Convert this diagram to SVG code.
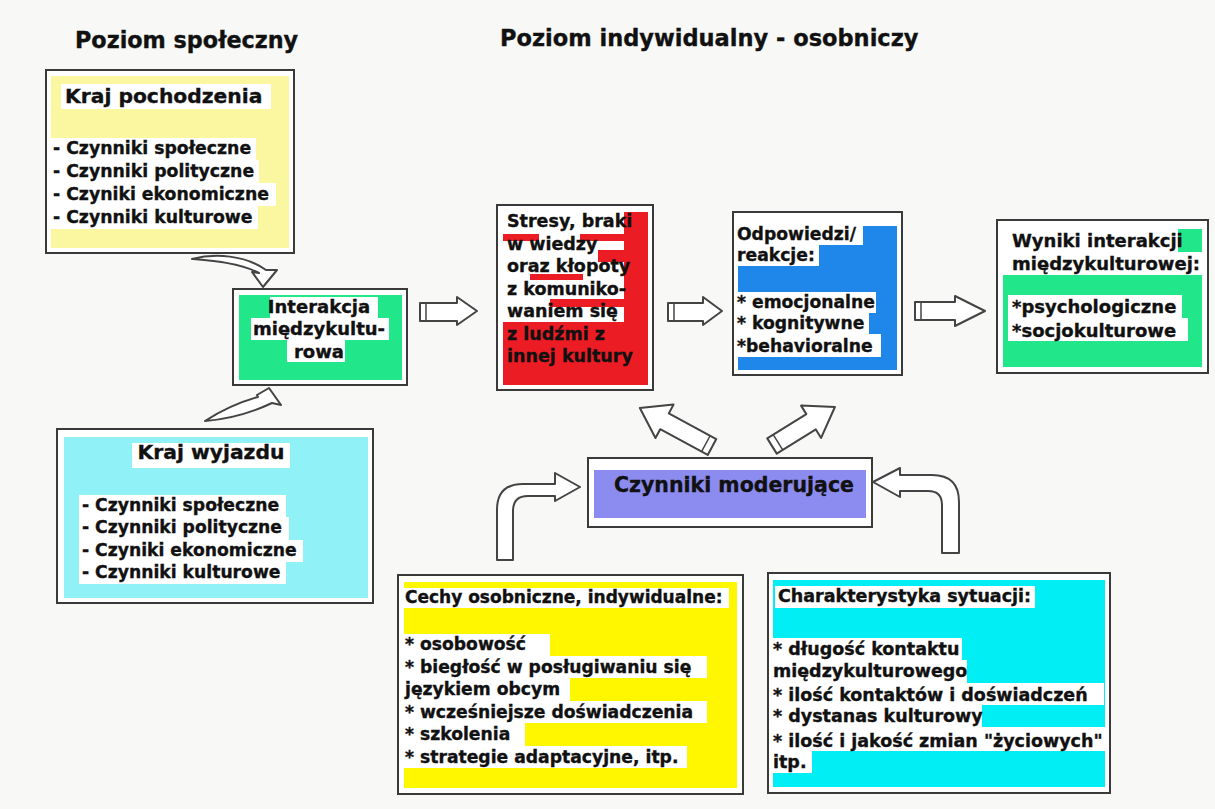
<svg xmlns="http://www.w3.org/2000/svg" width="1215" height="809" viewBox="0 0 1215 809">
<style>
.box{fill:#fff;stroke:#3a3a3a;stroke-width:2}
.t{font-family:"DejaVu Sans",Verdana,sans-serif;font-weight:bold;fill:#111;stroke:#111;stroke-width:0.35}
.hl{fill:#fff}
.arr{fill:#fff;stroke:#444;stroke-width:2;stroke-linejoin:round}
.ln{fill:none;stroke:#444;stroke-width:1.5}
</style>
<rect width="1215" height="809" fill="#f8f8f6"/>
<g id="titles">
<text class="t" x="75" y="48" font-size="22.3">Poziom społeczny</text>
<text class="t" x="500" y="46" font-size="22.5">Poziom indywidualny - osobniczy</text>
</g>
<g id="kraj-pochodzenia">
<rect class="box" x="46" y="70" width="248" height="183"/>
<rect x="51" y="76" width="238" height="172" fill="#fbf6a0"/>
<rect class="hl" x="61" y="84" width="210" height="25"/>
<rect class="hl" x="51" y="138" width="205" height="22"/>
<rect class="hl" x="51" y="160" width="208" height="23"/>
<rect class="hl" x="51" y="183" width="225" height="23"/>
<rect class="hl" x="51" y="206" width="207" height="23"/>
<text class="t" x="65" y="103" font-size="20.3">Kraj pochodzenia</text>
<text class="t" font-size="17.3"><tspan x="53" y="154">- Czynniki społeczne</tspan><tspan x="53" y="177">- Czynniki polityczne</tspan><tspan x="53" y="200">- Czyniki ekonomiczne</tspan><tspan x="53" y="223">- Czynniki kulturowe</tspan></text>
</g>
<g id="interakcja">
<rect class="box" x="233" y="289" width="174" height="96"/>
<rect x="239" y="295" width="163" height="85" fill="#22e68a"/>
<rect class="hl" x="270" y="297" width="108" height="21"/>
<rect class="hl" x="251" y="318" width="138" height="22"/>
<rect class="hl" x="287" y="340" width="58" height="22"/>
<text class="t" font-size="18" text-anchor="middle"><tspan x="319" y="313">Interakcja</tspan><tspan x="319" y="335">międzykultu-</tspan><tspan x="319" y="358">rowa</tspan></text>
</g>
<g id="stresy">
<rect class="box" x="497" y="205" width="156" height="185"/>
<rect x="503" y="322" width="145" height="63" fill="#ec1c24"/>
<rect x="624" y="212" width="24" height="110" fill="#ec1c24"/>
<rect x="503" y="234" width="36" height="7" fill="#ec1c24"/>
<rect x="580" y="234" width="44" height="7" fill="#ec1c24"/>
<rect x="530" y="274" width="53" height="6" fill="#ec1c24"/>
<rect x="550" y="299" width="80" height="8" fill="#ec1c24"/>
<rect x="598" y="250" width="26" height="12" fill="#ec1c24"/>
<text class="t" font-size="17.5"><tspan x="507" y="227">Stresy, braki</tspan><tspan x="507" y="249.5">w wiedzy</tspan><tspan x="507" y="272">oraz kłopoty</tspan><tspan x="507" y="294.5">z komuniko-</tspan><tspan x="507" y="317">waniem się</tspan><tspan x="507" y="339.5">z ludźmi z</tspan><tspan x="507" y="362">innej kultury</tspan></text>
</g>
<g id="odpowiedzi">
<rect class="box" x="733" y="212" width="169" height="163"/>
<rect x="738" y="226" width="159" height="144" fill="#1f86ea"/>
<rect class="hl" x="738" y="224" width="125" height="21"/>
<rect class="hl" x="738" y="245" width="81" height="21"/>
<rect class="hl" x="738" y="292" width="138" height="21"/>
<rect class="hl" x="738" y="313" width="131" height="21"/>
<rect class="hl" x="738" y="334" width="143" height="23"/>
<text class="t" font-size="17.2"><tspan x="737" y="240">Odpowiedzi/</tspan><tspan x="737" y="261">reakcje:</tspan><tspan x="737" y="308">* emocjonalne</tspan><tspan x="737" y="329">* kognitywne</tspan><tspan x="737" y="352">*behavioralne</tspan></text>
</g>
<g id="wyniki">
<rect class="box" x="997" y="220" width="211" height="153"/>
<rect x="1003" y="229" width="199" height="138" fill="#22e68a"/>
<rect class="hl" x="1003" y="229" width="175" height="23"/>
<rect class="hl" x="1003" y="252" width="199" height="23"/>
<rect class="hl" x="1008" y="295" width="174" height="23"/>
<rect class="hl" x="1008" y="318" width="180" height="23"/>
<text class="t" font-size="18"><tspan x="1012" y="247">Wyniki interakcji</tspan><tspan x="1012" y="270">międzykulturowej:</tspan><tspan x="1012" y="313">*psychologiczne</tspan><tspan x="1012" y="337">*socjokulturowe</tspan></text>
</g>
<g id="czynniki-moderujace">
<rect class="box" x="588" y="458" width="284" height="69"/>
<rect x="594" y="470" width="272" height="48" fill="#8c8cf0"/>
<text class="t" x="734" y="492" font-size="20.5" text-anchor="middle">Czynniki moderujące</text>
</g>
<g id="kraj-wyjazdu">
<rect class="box" x="57" y="429" width="316" height="174"/>
<rect x="64" y="437" width="304" height="161" fill="#90f1f6"/>
<rect class="hl" x="132" y="443" width="158" height="25"/>
<rect class="hl" x="79" y="495" width="207" height="22"/>
<rect class="hl" x="79" y="517" width="210" height="23"/>
<rect class="hl" x="79" y="540" width="224" height="22"/>
<rect class="hl" x="79" y="562" width="207" height="22"/>
<text class="t" x="211" y="459" font-size="20.3" text-anchor="middle">Kraj wyjazdu</text>
<text class="t" font-size="17.2"><tspan x="82" y="511">- Czynniki społeczne</tspan><tspan x="82" y="533">- Czynniki polityczne</tspan><tspan x="82" y="556">- Czyniki ekonomiczne</tspan><tspan x="82" y="578">- Czynniki kulturowe</tspan></text>
</g>
<g id="cechy">
<rect class="box" x="398" y="575" width="345" height="219"/>
<rect x="404" y="582" width="333" height="206" fill="#fff700"/>
<rect class="hl" x="403" y="588" width="326" height="20"/>
<rect class="hl" x="403" y="634" width="147" height="22"/>
<rect class="hl" x="403" y="656" width="304" height="22"/>
<rect class="hl" x="403" y="678" width="167" height="23"/>
<rect class="hl" x="403" y="701" width="304" height="22"/>
<rect class="hl" x="403" y="723" width="122" height="23"/>
<rect class="hl" x="403" y="746" width="284" height="22"/>
<text class="t" x="405" y="603" font-size="17">Cechy osobniczne, indywidualne:</text>
<text class="t" font-size="17.2"><tspan x="405" y="650">* osobowość</tspan><tspan x="405" y="672.5">* biegłość w posługiwaniu się</tspan><tspan x="405" y="695">językiem obcym</tspan><tspan x="405" y="717.5">* wcześniejsze doświadczenia</tspan><tspan x="405" y="740">* szkolenia</tspan><tspan x="405" y="762.5">* strategie adaptacyjne, itp.</tspan></text>
</g>
<g id="charakterystyka">
<rect class="box" x="768" y="573" width="342" height="220"/>
<rect x="773" y="580" width="332" height="207" fill="#00eef4"/>
<rect class="hl" x="775" y="586" width="260" height="22"/>
<rect class="hl" x="772" y="638" width="190" height="22"/>
<rect class="hl" x="772" y="660" width="195" height="23"/>
<rect class="hl" x="772" y="683" width="332" height="22"/>
<rect class="hl" x="772" y="705" width="210" height="22"/>
<rect class="hl" x="772" y="727" width="334" height="24"/>
<rect class="hl" x="772" y="751" width="40" height="22"/>
<text class="t" x="778" y="602" font-size="17.5">Charakterystyka sytuacji:</text>
<text class="t" font-size="17.5"><tspan x="773" y="655">* długość kontaktu</tspan><tspan x="773" y="677">międzykulturowego</tspan><tspan x="773" y="701">* ilość kontaktów i doświadczeń</tspan><tspan x="773" y="722">* dystanas kulturowy</tspan><tspan x="773" y="747">* ilość i jakość zmian "życiowych"</tspan><tspan x="773" y="768">itp.</tspan></text>
</g>
<g id="connectors">
<path class="arr" d="M192,259 C215,253 245,255 266,270 L277,270 L263,287 L252,272 L259,273 C240,263 215,261 192,259 Z"/>
<path class="arr" d="M205,421 C222,410 240,402 258,397 L257,395 L269,388 L281,405 L272,403 C255,411 230,419 205,421 Z"/>
<path class="arr" d="M420,303 H457 V297 L477,311 L457,325 V321 H420 Z"/>
<path class="ln" d="M426,303 V321"/>
<path class="arr" d="M668,303 H703 V297 L722,311 L703,325 V321 H668 Z"/>
<path class="ln" d="M674,303 V321"/>
<path class="arr" d="M915,302 H955 V296 L985,311 L955,326 V320 H915 Z"/>
<path class="ln" d="M921,302 V320"/>
<g transform="translate(712,447) rotate(208.4)">
<path class="arr" d="M0,-9 H54 V-19 L82,0 L54,19 V9 H0 Z"/>
<path class="ln" d="M7,-9 V9"/>
</g>
<g transform="translate(772,446) rotate(-31.8)">
<path class="arr" d="M0,-9 H46 V-19 L74,0 L46,19 V9 H0 Z"/>
<path class="ln" d="M7,-9 V9"/>
</g>
<path class="arr" d="M497,560 V510 Q497,484 523,484 H555 V473 L580,487 L555,501 V496 H528 Q513,496 513,511 V560 Z"/>
<path class="arr" d="M873,482 L900,468 V475 H932 Q959,475 959,502 V553 H942 V505 Q942,491 928,491 H900 V497 Z"/>
</g>
</svg>
